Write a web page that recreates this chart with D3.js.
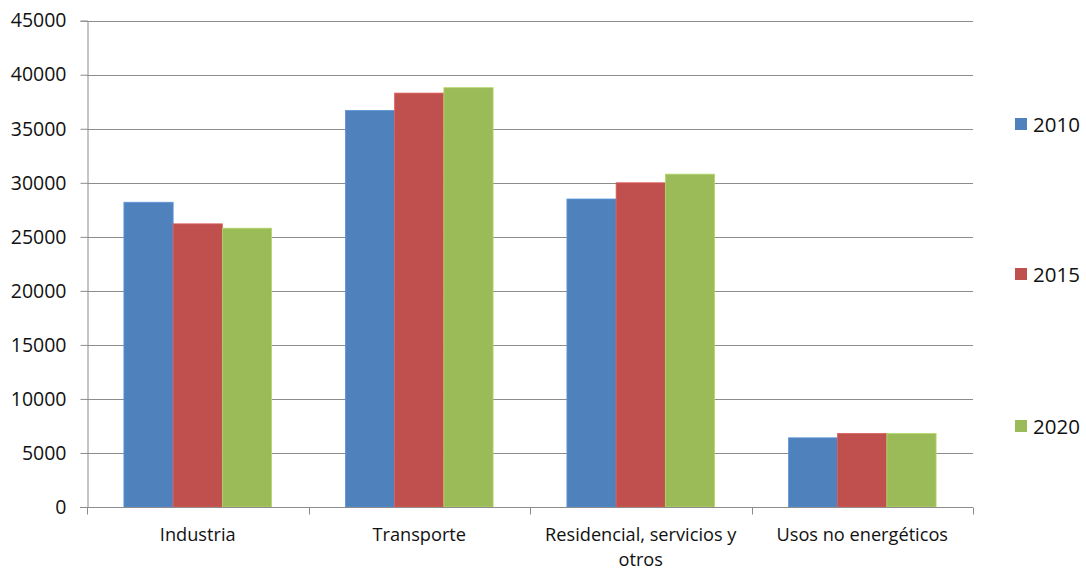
<!DOCTYPE html>
<html>
<head>
<meta charset="utf-8">
<script src="https://cdn.jsdelivr.net/npm/d3@7"></script>
<style>
  body { margin: 0; background: #fff; }
  text { font-family: "Open Sans", sans-serif; fill: #111; }
</style>
</head>
<body>
<div id="chart"></div>
<script>
// Datos
const categories = ["Industria", "Transporte", "Residencial, servicios y otros", "Usos no energéticos"];
const years = ["2010", "2015", "2020"];
const values2010 = [28200, 36700, 28500, 6400];
const values2015 = [26200, 38300, 30000, 6800];
const values2020 = [25800, 38800, 30800, 6800];
const yTicks = [0, 5000, 10000, 15000, 20000, 25000, 30000, 35000, 40000, 45000];

const seriesValues = [values2010, values2015, values2020];
const colors = ["#4F81BD", "#C0504D", "#9BBB59"];

const width = 1086;
const height = 571;
const margin = { top: 20.7, right: 113, bottom: 64, left: 87 };

const svg = d3.select("#chart")
  .append("svg")
  .attr("width", width)
  .attr("height", height);

const x0 = d3.scaleBand()
  .domain(categories)
  .range([margin.left, width - margin.right])
  .paddingInner(0)
  .paddingOuter(0);

// Excel: ancho de separación 150%
const x1 = d3.scaleBand()
  .domain(years)
  .range([x0.bandwidth() / 6, x0.bandwidth() * 5 / 6]);

const y = d3.scaleLinear()
  .domain([0, 45000])
  .range([height - margin.bottom, margin.top]);

// Líneas de cuadrícula
svg.append("g")
  .selectAll("line")
  .data(yTicks.slice(1))
  .join("line")
  .attr("x1", margin.left)
  .attr("x2", width - margin.right)
  .attr("y1", d => Math.round(y(d)) + 0.5)
  .attr("y2", d => Math.round(y(d)) + 0.5)
  .attr("stroke", "#8c8c8c")
  .attr("stroke-width", 1);

// Barras
const groups = svg.append("g")
  .selectAll("g")
  .data(categories.map((c, i) => ({ cat: c, i })))
  .join("g")
  .attr("transform", d => `translate(${x0(d.cat)},0)`);

groups.selectAll("rect")
  .data(d => years.map((yr, j) => ({ yr, j, v: seriesValues[j][d.i] })))
  .join("rect")
  .attr("x", d => x1(d.yr))
  .attr("y", d => y(d.v))
  .attr("width", x1.bandwidth())
  .attr("height", d => y(0) - y(d.v))
  .attr("fill", d => colors[d.j])
  .attr("stroke", d => d3.color(colors[d.j]).brighter(0.4))
  .attr("stroke-width", 0.8);

// Eje Y
const yAxis = svg.append("g")
  .attr("transform", `translate(${margin.left + 0.5},0)`)
  .call(d3.axisLeft(y).tickValues(yTicks).tickSize(7).tickPadding(14).tickFormat(d3.format("d")));
yAxis.select(".domain").attr("stroke", "#8c8c8c");
yAxis.selectAll(".tick line").attr("stroke", "#8c8c8c");
yAxis.selectAll("text").style("font-size", "19.5px").attr("fill", "#111");

// Eje X
const xAxis = svg.append("g")
  .attr("transform", `translate(0,${Math.round(y(0)) + 0.5})`);
xAxis.append("line")
  .attr("x1", margin.left - 7)
  .attr("x2", width - margin.right)
  .attr("stroke", "#8c8c8c");
xAxis.selectAll(".xtick")
  .data(categories.map(c => x0(c)).concat([width - margin.right]))
  .join("line")
  .attr("class", "xtick")
  .attr("x1", d => Math.round(d) + 0.5)
  .attr("x2", d => Math.round(d) + 0.5)
  .attr("y1", 0)
  .attr("y2", 7)
  .attr("stroke", "#8c8c8c");

// Etiquetas de categorías (con salto de línea)
function wrap(label, maxWidth, textEl) {
  const words = label.split(" ");
  let line = [];
  const lines = [];
  const tmp = textEl.append("tspan");
  words.forEach(w => {
    line.push(w);
    tmp.text(line.join(" "));
    if (tmp.node().getComputedTextLength() > maxWidth && line.length > 1) {
      line.pop();
      lines.push(line.join(" "));
      line = [w];
    }
  });
  lines.push(line.join(" "));
  tmp.remove();
  return lines;
}

const labels = xAxis.selectAll(".xlabel")
  .data(categories)
  .join("text")
  .attr("class", "xlabel")
  .attr("text-anchor", "middle")
  .attr("x", d => x0(d) + x0.bandwidth() / 2)
  .attr("y", 33)
  .style("font-size", "18.2px");

labels.each(function (d) {
  const t = d3.select(this);
  const lines = wrap(d, x0.bandwidth() - 2, t);
  lines.forEach((ln, k) => {
    t.append("tspan")
      .attr("x", x0(d) + x0.bandwidth() / 2)
      .attr("dy", k === 0 ? 0 : 25)
      .text(ln);
  });
});

// Leyenda
const legendY = [124, 274, 426];
const legend = svg.append("g")
  .selectAll("g")
  .data(years)
  .join("g")
  .attr("transform", (d, i) => `translate(1015,${legendY[i]})`);

legend.append("rect")
  .attr("x", 0)
  .attr("y", -6)
  .attr("width", 12)
  .attr("height", 12)
  .attr("fill", (d, i) => colors[i]);

legend.append("text")
  .attr("x", 18)
  .attr("y", 7.5)
  .style("font-size", "20.5px")
  .text(d => d);
</script>
</body>
</html>
